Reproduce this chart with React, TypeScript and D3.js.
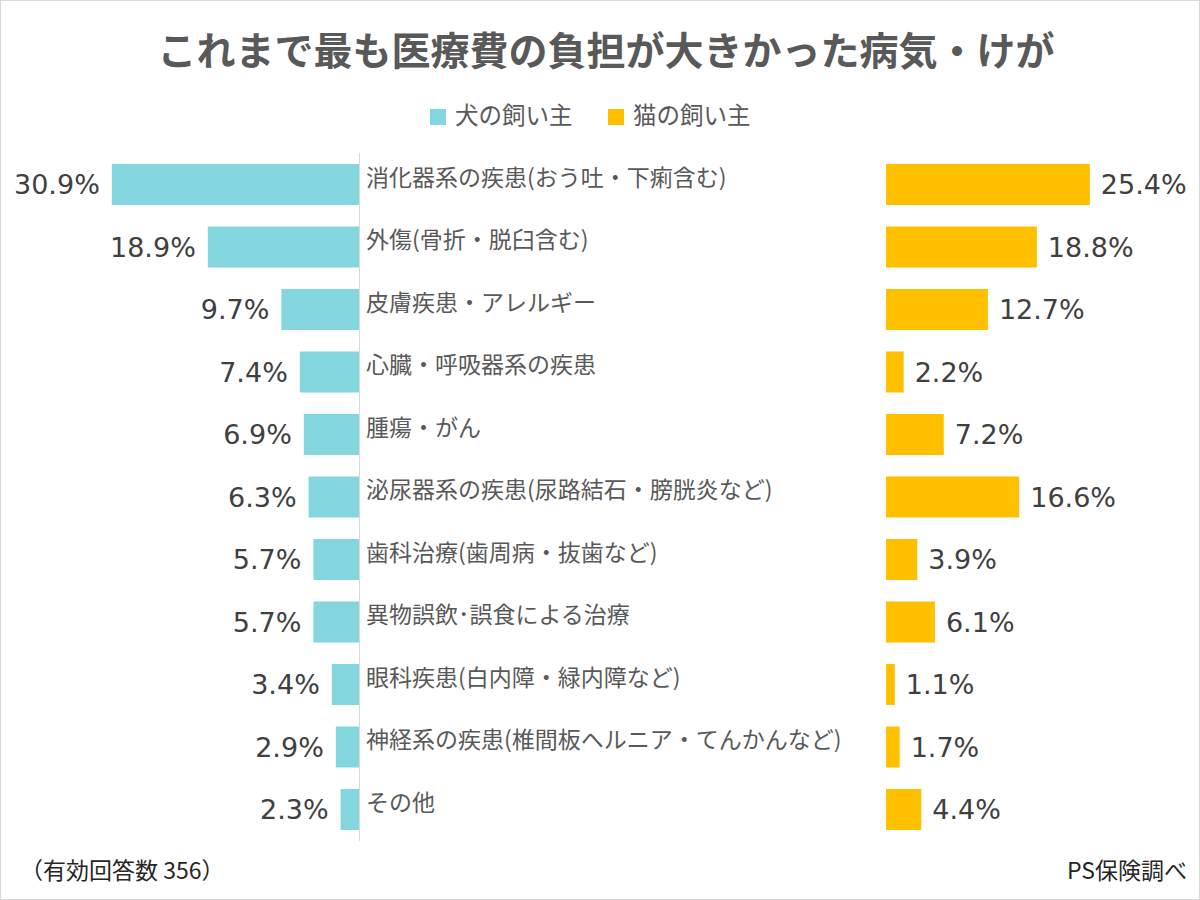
import React, { useEffect, useRef } from 'react';
import * as d3 from 'd3';

const categories = [
  '消化器系の疾患(おう吐・下痢含む)',
  '外傷(骨折・脱臼含む)',
  '皮膚疾患・アレルギー',
  '心臓・呼吸器系の疾患',
  '腫瘍・がん',
  '泌尿器系の疾患(尿路結石・膀胱炎など)',
  '歯科治療(歯周病・抜歯など)',
  '異物誤飲･誤食による治療',
  '眼科疾患(白内障・緑内障など)',
  '神経系の疾患(椎間板ヘルニア・てんかんなど)',
  'その他',
];
const dogValues = [30.9, 18.9, 9.7, 7.4, 6.9, 6.3, 5.7, 5.7, 3.4, 2.9, 2.3];
const catValues = [25.4, 18.8, 12.7, 2.2, 7.2, 16.6, 3.9, 6.1, 1.1, 1.7, 4.4];
const seriesNames = ['犬の飼い主', '猫の飼い主'];
const colors = ['#83D6DE', '#FFC000'];

const W = 1200;
const H = 900;
const JP = '"Noto Sans CJK JP", "Noto Sans", sans-serif';
const NUM = '"DejaVu Sans", "Noto Sans", sans-serif';

export default function App() {
  const ref = useRef<SVGSVGElement>(null);

  useEffect(() => {
    const svg = d3.select(ref.current);
    svg.selectAll('*').remove();

    svg.append('rect')
      .attr('x', 0.5).attr('y', 0.5)
      .attr('width', W - 1).attr('height', H - 1)
      .attr('fill', '#fff').attr('stroke', '#d9d9d9');

    // title
    svg.append('text')
      .attr('x', 606).attr('y', 65)
      .attr('text-anchor', 'middle')
      .style('font-family', JP).style('font-weight', 700)
      .style('font-size', '39px').style('fill', '#595959')
      .text('これまで最も医療費の負担が大きかった病気・けが');

    // legend
    const legendX = [430, 608];
    seriesNames.forEach((name, i) => {
      svg.append('rect')
        .attr('x', legendX[i]).attr('y', 109)
        .attr('width', 16).attr('height', 16)
        .attr('fill', colors[i]);
      svg.append('text')
        .attr('x', legendX[i] + 25).attr('y', 124)
        .style('font-family', JP).style('font-size', '23.5px').style('fill', '#595959')
        .text(name);
    });

    const y = d3.scaleBand<string>()
      .domain(categories)
      .range([153.25, 840.75])
      .paddingInner(0.344)
      .paddingOuter(0.172);

    const axisX = 359;
    const xL = d3.scaleLinear().domain([0, 40]).range([axisX, axisX - 320]);
    const xR = d3.scaleLinear().domain([0, 40]).range([886, 886 + 321]);

    const rows = categories.map((c, i) => ({ c, dog: dogValues[i], cat: catValues[i] }));

    // dog bars
    svg.append('g').selectAll('rect')
      .data(rows).enter().append('rect')
      .attr('x', d => xL(d.dog))
      .attr('y', d => y(d.c)!)
      .attr('width', d => xL(0) - xL(d.dog))
      .attr('height', y.bandwidth())
      .attr('fill', colors[0]);

    svg.append('g').selectAll('text')
      .data(rows).enter().append('text')
      .attr('x', d => xL(d.dog) - 12)
      .attr('y', d => y(d.c)! + y.bandwidth() / 2 + 9.5)
      .attr('text-anchor', 'end')
      .style('font-family', NUM).style('font-size', '27px').style('fill', '#404040')
      .text(d => d.dog.toFixed(1) + '%');

    // center axis line
    svg.append('line')
      .attr('x1', axisX + 0.5).attr('x2', axisX + 0.5)
      .attr('y1', 153).attr('y2', 841)
      .attr('stroke', '#d9d9d9').attr('stroke-width', 1);

    // category labels
    svg.append('g').selectAll('text')
      .data(rows).enter().append('text')
      .attr('x', 366)
      .attr('y', d => y(d.c)! + y.bandwidth() / 2 + 1)
      .style('font-family', JP).style('font-size', '23px').style('fill', '#595959')
      .text(d => d.c);

    // cat bars
    svg.append('g').selectAll('rect')
      .data(rows).enter().append('rect')
      .attr('x', xR(0))
      .attr('y', d => y(d.c)!)
      .attr('width', d => xR(d.cat) - xR(0))
      .attr('height', y.bandwidth())
      .attr('fill', colors[1]);

    svg.append('g').selectAll('text')
      .data(rows).enter().append('text')
      .attr('x', d => xR(d.cat) + 11)
      .attr('y', d => y(d.c)! + y.bandwidth() / 2 + 9.5)
      .style('font-family', NUM).style('font-size', '27px').style('fill', '#404040')
      .text(d => d.cat.toFixed(1) + '%');

    // footer
    svg.append('text')
      .attr('x', 20).attr('y', 879)
      .style('font-family', JP).style('font-size', '23px').style('fill', '#262626')
      .text('（有効回答数 356）');
    svg.append('text')
      .attr('x', 1187).attr('y', 879)
      .attr('text-anchor', 'end')
      .style('font-family', JP).style('font-size', '23px').style('fill', '#262626')
      .text('PS保険調べ');
  }, []);

  return (
    <div style={{ position: 'absolute', left: 0, top: 0 }}>
      <svg ref={ref} width={W} height={H} style={{ display: 'block' }} />
    </div>
  );
}
